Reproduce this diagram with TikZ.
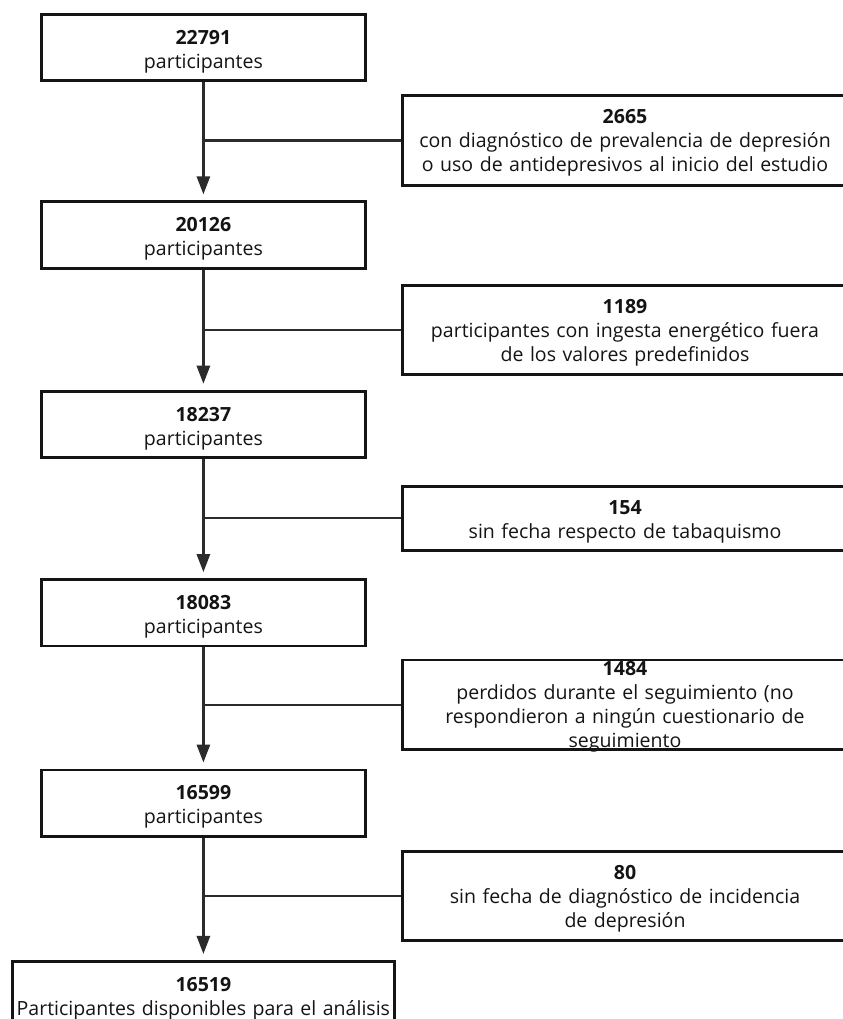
\documentclass[tikz,border=0pt]{standalone}
\usepackage{fontspec}
\setmainfont{Open Sans}
\usetikzlibrary{arrows.meta,positioning}
\definecolor{borde}{HTML}{141414}
\definecolor{conector}{HTML}{2B2B2B}
\tikzstyle{paso}=[draw=borde, line width=2pt, text width=8.1cm, align=center,
  inner sep=0pt, text height=0.75cm, text depth=0.91cm, text=borde,
  font=\fontsize{13.9}{17.1}\selectfont]
\tikzstyle{descarte}=[paso, text width=11.135cm, text height=0.7cm,
  text depth=1.535cm]
\tikzstyle{line}=[draw=conector, line width=1.6pt,
  -{Triangle[length=0.45cm,width=0.33cm]}, shorten >=0.15cm]
\tikzstyle{rama}=[draw=conector, line width=1.6pt]
\newcommand{\paso}[2]{node (p#1) [paso]
  {#2}}
\newcommand{\descarte}[2]{node (e#1) [descarte]
  {#2}}

\begin{document}
\begin{tikzpicture}
  \useasboundingbox (0,0) rectangle (21.075,-25.475);

  % Draw diagram elements
  \path (5.085,-1.1875) \paso{1}{\textbf{22791}\\participantes};
  \path (p1.south)+(10.54,-1.4575) \descarte{1}{\textbf{2665}\\con diagnóstico de prevalencia de depresión\\o uso de antidepresivos al inicio del estudio};

  \path (p1.south)+(0.0,-3.82) \paso{2}{\textbf{20126}\\participantes};
  \path (p2.south)+(10.54,-1.5075) \descarte{2}{\textbf{1189}\\participantes con ingesta energético fuera\\de los valores predefinidos};

  \path (p2.south)+(0.0,-3.87) \paso{3}{\textbf{18237}\\participantes};
  \path (p3.south)+(10.54,-1.4825) node (e3) [descarte, text depth=0.895cm]
    {\textbf{154}\\sin fecha respecto de tabaquismo};

  \path (p3.south)+(0.0,-3.845) \paso{4}{\textbf{18083}\\participantes};
  \path (p4.south)+(10.54,-1.4325) node (e4) [descarte, text height=0.39cm, text depth=1.845cm]
    {\textbf{1484}\\perdidos durante el seguimiento (no\\respondieron a ningún cuestionario de\\seguimiento};

  \path (p4.south)+(0.0,-3.895) \paso{5}{\textbf{16599}\\participantes};
  \path (p5.south)+(10.54,-1.4575) \descarte{5}{\textbf{80}\\sin fecha de diagnóstico de incidencia\\de depresión};

  \path (p5.south)+(0.0,-3.92) node (p6) [paso, text width=9.535cm]
    {\textbf{16519}\\Participantes disponibles para el análisis};

  % Draw arrows between elements
  \path [line] (p1.south) -- (p2.north);
  \path [line] (p2.south) -- (p3.north);
  \path [line] (p3.south) -- (p4.north);
  \path [line] (p4.south) -- (p5.north);
  \path [line] (p5.south) -- (p6.north);

  \path [rama] (e1.west) -- (e1.west -| p1.south);
  \path [rama] (e2.west) -- (e2.west -| p2.south);
  \path [rama] (e3.west) -- (e3.west -| p3.south);
  \path [rama] (e4.west) -- (e4.west -| p4.south);
  \path [rama] (e5.west) -- (e5.west -| p5.south);
\end{tikzpicture}
\end{document}
